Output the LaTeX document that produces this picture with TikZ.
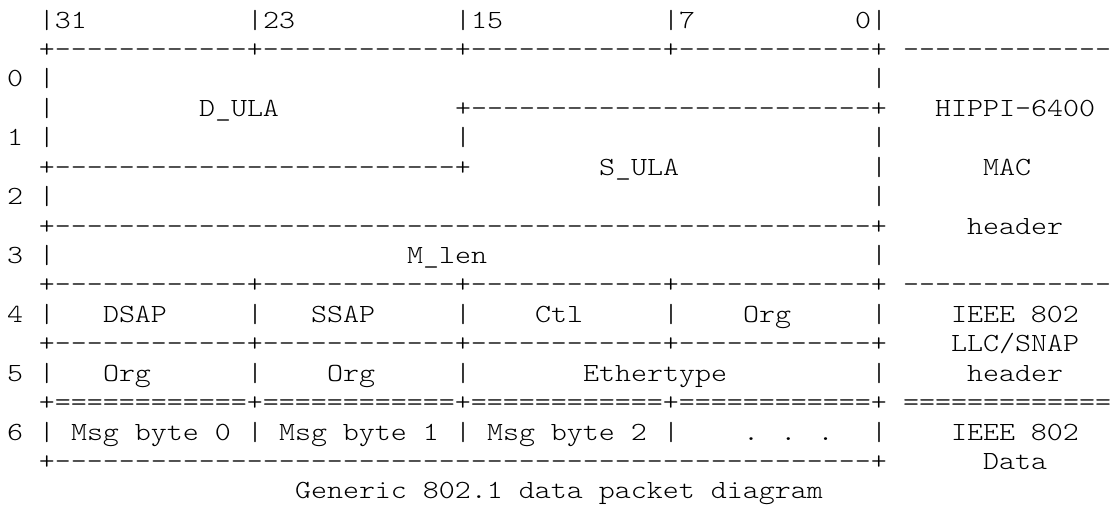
\documentclass[tikz,border=0pt]{standalone}
\usepackage{fontspec}
\usepackage{tikz}
\newfontfamily\asciifont{lmmonolt10-regular.otf}[FakeStretch=1.164, Ligatures=TeXOff]

\tikzset{
  ascii/.style={anchor=base west, inner sep=0pt, outer sep=0pt,
    font={\asciifont\fontsize{13.09pt}{14.7pt}\selectfont}},
}

\begin{document}
\begin{tikzpicture}[x=8pt, y=-14.715pt]
    \useasboundingbox (-3.5pt,-0.715pt) rectangle (552.5pt,-254.2pt);

    % bit numbers
    \node[ascii] (bit_31) at (2,1) {|31};
    \node[ascii] (bit_23) at (15,1) {|23};
    \node[ascii] (bit_15) at (28,1) {|15};
    \node[ascii] (bit_7) at (41,1) {|7};
    \node[ascii] (bit_0) at (53,1) {0|};

    % HIPPI-6400 MAC header
    \node[ascii] (mac_top) at (2,2) {+------------+------------+------------+------------+};
    \node[ascii] (mac_sep) at (56,2) {-------------};
    \node[ascii] (word_0) at (0,3) {0};
    \node[ascii] (bar_0_l) at (2,3) {|};
    \node[ascii] (bar_0_r) at (54,3) {|};
    \node[ascii] (bar_0b_l) at (2,4) {|};
    \node[ascii] (d_ula) at (12,4) {D\_ULA};
    \node[ascii] (s_ula_top) at (28,4) {+-------------------------+};
    \node[ascii] (hippi) at (58,4) {HIPPI-6400};
    \node[ascii] (word_1) at (0,5) {1};
    \node[ascii] (bar_1_l) at (2,5) {|};
    \node[ascii] (bar_1_m) at (28,5) {|};
    \node[ascii] (bar_1_r) at (54,5) {|};
    \node[ascii] (d_ula_bot) at (2,6) {+-------------------------+};
    \node[ascii] (s_ula) at (37,6) {S\_ULA};
    \node[ascii] (bar_1b_r) at (54,6) {|};
    \node[ascii] (mac) at (61,6) {MAC};
    \node[ascii] (word_2) at (0,7) {2};
    \node[ascii] (bar_2_l) at (2,7) {|};
    \node[ascii] (bar_2_r) at (54,7) {|};
    \node[ascii] (s_ula_bot) at (2,8) {+---------------------------------------------------+};
    \node[ascii] (mac_hdr) at (60,8) {header};
    \node[ascii] (word_3) at (0,9) {3};
    \node[ascii] (bar_3_l) at (2,9) {|};
    \node[ascii] (m_len) at (25,9) {M\_len};
    \node[ascii] (bar_3_r) at (54,9) {|};

    % LLC/SNAP header
    \node[ascii] (llc_top) at (2,10) {+------------+------------+------------+------------+};
    \node[ascii] (llc_sep) at (56,10) {-------------};
    \node[ascii] (word_4) at (0,11) {4};
    \node[ascii] (bar_4_0) at (2,11) {|};
    \node[ascii] (dsap) at (6,11) {DSAP};
    \node[ascii] (bar_4_1) at (15,11) {|};
    \node[ascii] (ssap) at (19,11) {SSAP};
    \node[ascii] (bar_4_2) at (28,11) {|};
    \node[ascii] (ctl) at (33,11) {Ctl};
    \node[ascii] (bar_4_3) at (41,11) {|};
    \node[ascii] (org_1) at (46,11) {Org};
    \node[ascii] (bar_4_4) at (54,11) {|};
    \node[ascii] (ieee_llc) at (59,11) {IEEE 802};
    \node[ascii] (llc_mid) at (2,12) {+------------+------------+------------+------------+};
    \node[ascii] (llc_snap) at (59,12) {LLC/SNAP};
    \node[ascii] (word_5) at (0,13) {5};
    \node[ascii] (bar_5_0) at (2,13) {|};
    \node[ascii] (org_2) at (6,13) {Org};
    \node[ascii] (bar_5_1) at (15,13) {|};
    \node[ascii] (org_3) at (20,13) {Org};
    \node[ascii] (bar_5_2) at (28,13) {|};
    \node[ascii] (ethertype) at (36,13) {Ethertype};
    \node[ascii] (bar_5_4) at (54,13) {|};
    \node[ascii] (llc_hdr) at (60,13) {header};

    % data
    \node[ascii] (data_top) at (2,14) {+============+============+============+============+};
    \node[ascii] (data_sep) at (56,14) {=============};
    \node[ascii] (word_6) at (0,15) {6};
    \node[ascii] (bar_6_0) at (2,15) {|};
    \node[ascii] (msg_0) at (4,15) {Msg byte 0};
    \node[ascii] (bar_6_1) at (15,15) {|};
    \node[ascii] (msg_1) at (17,15) {Msg byte 1};
    \node[ascii] (bar_6_2) at (28,15) {|};
    \node[ascii] (msg_2) at (30,15) {Msg byte 2};
    \node[ascii] (bar_6_3) at (41,15) {|};
    \node[ascii] (dots) at (46,15) {. . .};
    \node[ascii] (bar_6_4) at (54,15) {|};
    \node[ascii] (ieee_data) at (59,15) {IEEE 802};
    \node[ascii] (data_bot) at (2,16) {+---------------------------------------------------+};
    \node[ascii] (data) at (61,16) {Data};

    \node[ascii] (caption) at (18,17) {Generic 802.1 data packet diagram};
\end{tikzpicture}
\end{document}
